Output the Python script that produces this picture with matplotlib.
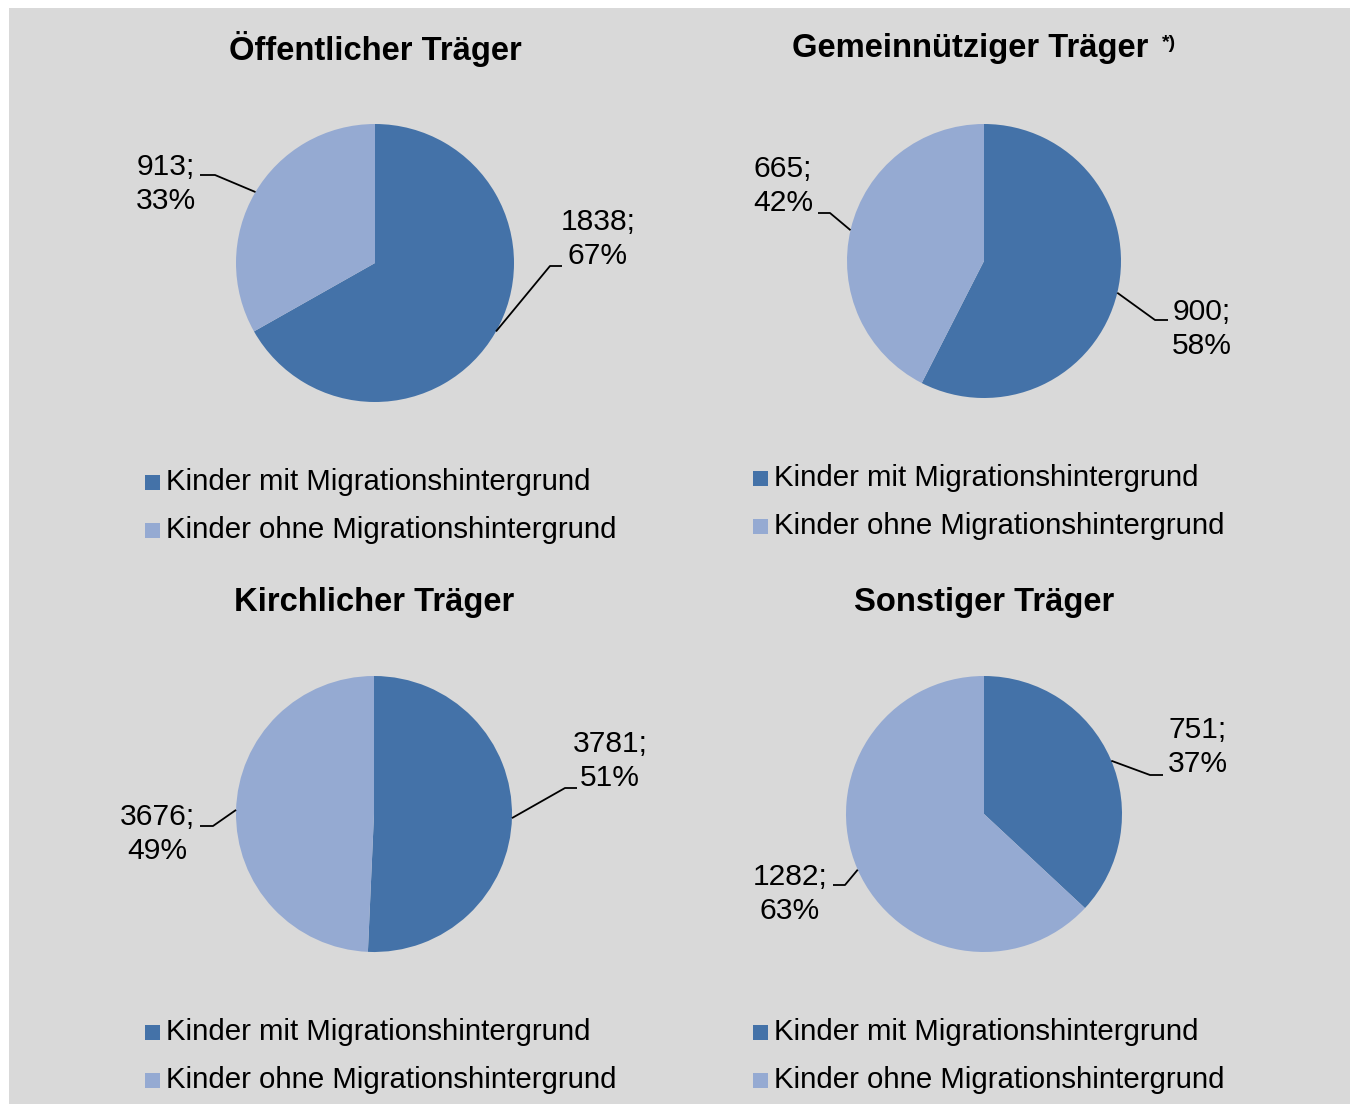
import matplotlib
matplotlib.use("Agg")
import matplotlib.pyplot as plt
from matplotlib.patches import Rectangle
import numpy as np

plt.rcParams["font.family"] = ["Liberation Sans", "DejaVu Sans"]

# -----------------------------
# data
# -----------------------------
titles = ["Öffentlicher Träger", "Gemeinnütziger Träger",
          "Kirchlicher Träger", "Sonstiger Träger"]
mit_mh = [1838, 900, 3781, 751]     # Kinder mit Migrationshintergrund
ohne_mh = [913, 665, 3676, 1282]    # Kinder ohne Migrationshintergrund
legend_labels = ["Kinder mit Migrationshintergrund",
                 "Kinder ohne Migrationshintergrund"]

dark = "#4472a8"
light = "#95aad2"
bg = "#d9d9d9"

W, H = 1354, 1104

# layout in pixels (y from top)
centers = [(375, 263), (984, 261), (374, 814), (984, 814)]
radii = [139, 137, 138, 138]
title_pos = [(375, 49), (970, 49), (374, 602), (984, 602)]
legend_pos = [(145, 482), (753, 478), (145, 1032), (753, 1032)]

# label placement: (text center, text-side point, elbow, edge angle) for mit / ohne
label_mit = [((598, 239), (562, 266), (550, 266), -29.5),
             ((1202, 329), (1168, 320), (1155, 320), -13.4),
             ((610, 761), (577, 788), (565, 788), -1.7),
             ((1198, 747), (1163, 775), (1150, 775), 22.7)]
label_ohne = [((166, 184), (200, 175), (215, 175), 149.3),
              ((783, 186), (818, 213), (830, 213), 167.0),
              ((157, 834), (200, 826), (213, 826), 178.3),
              ((790, 894), (833, 885), (845, 885), 203.8)]

fig = plt.figure(figsize=(W / 100, H / 100), dpi=100, facecolor="white")
ax = fig.add_axes([0, 0, 1, 1])


def yy(y):
    return H - y


ax.add_patch(Rectangle((9, 0), 1341, H - 8, facecolor=bg, edgecolor="none", zorder=0))

for i in range(4):
    cx, cy = centers[i]
    r = radii[i]
    ax.pie([mit_mh[i], ohne_mh[i]], colors=[dark, light], startangle=90,
           counterclock=False, center=(cx, yy(cy)), radius=r,
           wedgeprops=dict(linewidth=0), frame=False)

    # title
    tx, ty = title_pos[i]
    ax.text(tx, yy(ty), titles[i], fontsize=23.6, fontweight="bold",
            ha="center", va="center")
    if i == 1:
        ax.text(1162, yy(43), "*)", fontsize=14, fontweight="bold",
                ha="left", va="center")

    # data labels with leader lines
    total = mit_mh[i] + ohne_mh[i]
    for val, lab in [(mit_mh[i], label_mit[i]), (ohne_mh[i], label_ohne[i])]:
        (lx, ly), p1, p2, ang = lab
        pct = round(100 * val / total)
        ax.text(lx, yy(ly), f"{val};\n{pct}%", fontsize=21.6, ha="center",
                va="center", linespacing=1.3)
        ex = cx + r * np.cos(np.radians(ang))
        ey = yy(cy) + r * np.sin(np.radians(ang))
        ax.plot([p1[0], p2[0], ex], [yy(p1[1]), yy(p2[1]), ey],
                color="black", linewidth=1.3, solid_capstyle="butt")

    # legend
    gx, gy = legend_pos[i]
    for k, (lab, col) in enumerate(zip(legend_labels, [dark, light])):
        y0 = gy + 48 * k
        ax.add_patch(Rectangle((gx, yy(y0) - 7.5), 15, 15, facecolor=col,
                               edgecolor="none"))
        ax.text(gx + 21, yy(y0), lab, fontsize=21.2, ha="left", va="center")

ax.set_xlim(0, W)
ax.set_ylim(0, H)
ax.set_aspect("auto")
ax.axis("off")

fig.savefig("out.png", dpi=100, facecolor="white")
